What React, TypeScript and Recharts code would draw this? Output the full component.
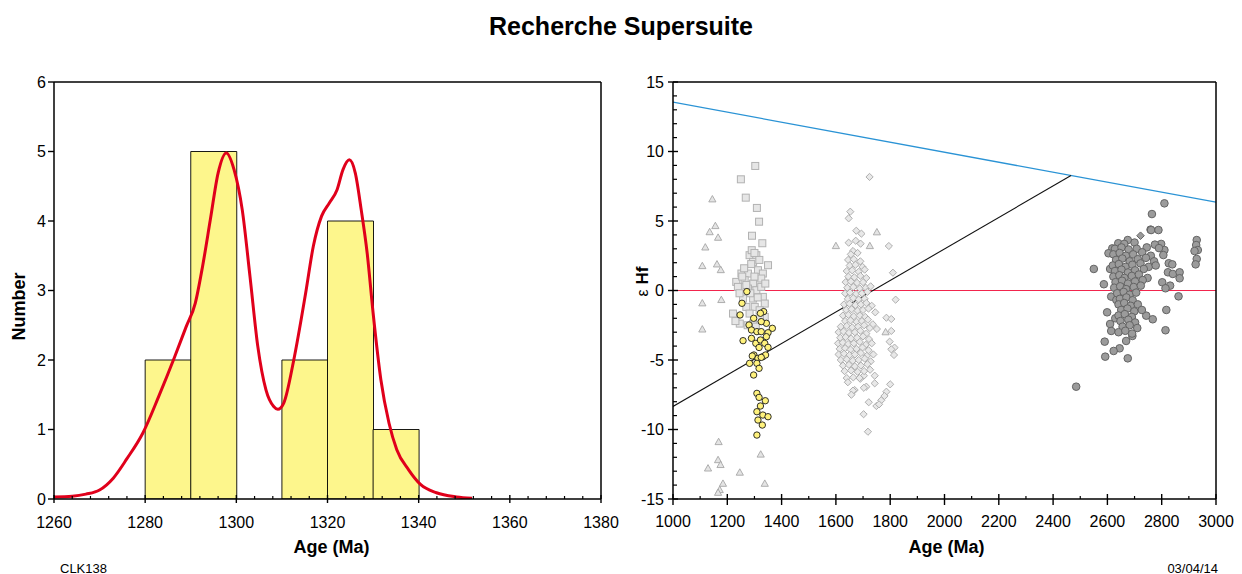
import {
  Bar,
  ComposedChart,
  Line,
  ReferenceLine,
  Scatter,
  XAxis,
  YAxis,
} from "recharts";

// ---- left panel: histogram + probability curve ----
const binStarts = [1260, 1270, 1280, 1290, 1300, 1310, 1320, 1330, 1340, 1350, 1360, 1370];
const binCounts = [0, 0, 2, 5, 0, 2, 4, 1, 0, 0, 0, 0];

const kdeAge = [
  1260, 1264, 1267, 1270, 1273, 1276, 1279.5, 1283, 1286.5, 1289, 1291, 1292.6, 1294.3, 1296,
  1297.8, 1299.5, 1301.3, 1303, 1304.7, 1306.5, 1308.2, 1309.1, 1310.4, 1312.6, 1315.2,
  1316.9, 1318.7, 1320.4, 1322.1, 1323.4, 1324.8, 1326.1, 1327.4, 1328.7, 1330, 1331.7,
  1333.5, 1335.2, 1337.8, 1340.4, 1343.9, 1348.3, 1351.7,
];
const kdeDensity = [
  0.03, 0.04, 0.07, 0.13, 0.3, 0.58, 0.95, 1.48, 2.05, 2.48, 2.82, 3.35, 4.02, 4.69, 4.98,
  4.74, 4.16, 3.2, 2.2, 1.57, 1.33, 1.29, 1.38, 2.0, 2.96, 3.64, 4.07, 4.26, 4.45, 4.74,
  4.88, 4.69, 4.16, 3.54, 2.68, 1.72, 1.09, 0.71, 0.42, 0.21, 0.09, 0.03, 0.01,
];

const countTicks = [0, 1, 2, 3, 4, 5, 6];
const leftAgeLabels = [1260, 1280, 1300, 1320, 1340, 1360, 1380];

// ---- right panel: epsilon Hf vs age ----
const epsLabels = [-15, -10, -5, 0, 5, 10, 15];
const rightAgeLabels = [1000, 1200, 1400, 1600, 1800, 2000, 2200, 2400, 2600, 2800, 3000];

const depletedMantle = [
  [1000, 13.55],
  [3000, 6.35],
];
const crustTrend = [
  [1000, -8.34],
  [2466, 8.27],
];
const chur = [
  [1000, 0],
  [3000, 0],
];

const triangles = [
  [1145, 6.56], [1156, 4.64], [1135, 4.2], [1166, 3.8], [1119, 3.1], [1108, 1.76],
  [1162, 1.88], [1176, 1.47], [1108, -0.92], [1178, -0.68], [1108, -2.8], [1168, -10.9],
  [1166, -12.2], [1129, -12.8], [1175, -12.55], [1246, -13.1], [1323, -11.8], [1184, -13.9],
  [1172, -14.35], [1166, -14.55], [1338, -13.9], [1600, 3.2], [1751, 4.19], [1725, 3.2],
  [1783, -3.0],
];

const squares = [
  [1303, 8.96], [1250, 8.0], [1268, 6.68], [1309, 5.94], [1317, 4.95], [1291, 3.94],
  [1329, 3.4], [1282, 2.54], [1307, 2.54], [1295, 2.06], [1350, 1.82], [1252, 1.22],
  [1276, 1.22], [1313, 1.46], [1331, 1.22], [1233, 0.62], [1264, 0.74], [1295, 0.5],
  [1325, 0.86], [1239, 0.26], [1276, 0.14], [1307, 0.02], [1325, 0.26], [1331, -0.46],
  [1295, -0.58], [1258, -0.58], [1338, -0.94], [1301, -1.18], [1270, -1.18], [1319, -1.42],
  [1221, -1.66], [1282, -1.66], [1246, -2.38], [1338, -1.9], [1295, -2.38], [1288, 1.9],
  [1300, 1.0], [1318, 2.2], [1262, 1.6], [1285, -0.2], [1312, -0.5], [1245, -0.2],
  [1270, 0.4], [1320, -2.0], [1305, -2.6], [1230, -2.2], [1340, 0.5], [1290, 2.9],
  [1300, 2.7], [1275, -2.5], [1255, 1.0],
];

const yellowCircles = [
  [1272, -0.08], [1254, -0.92], [1247, -1.76], [1334, -1.52], [1322, -1.64], [1297, -2.0],
  [1344, -2.36], [1280, -2.48], [1325, -2.24], [1366, -2.72], [1289, -2.84], [1309, -2.96],
  [1325, -2.96], [1350, -3.04], [1258, -3.61], [1289, -3.44], [1305, -3.8], [1322, -3.56],
  [1344, -3.32], [1338, -3.8], [1317, -4.1], [1350, -4.09], [1298, -4.64], [1292, -4.71],
  [1313, -4.88], [1331, -4.76], [1341, -4.64], [1282, -5.24], [1309, -5.24], [1325, -4.81],
  [1317, -5.6], [1297, -6.08], [1309, -7.4], [1317, -7.69], [1340, -7.93], [1322, -8.31],
  [1309, -8.72], [1331, -8.96], [1350, -9.08], [1313, -9.32], [1329, -9.68], [1309, -10.4],
];

const diamonds = [
  [1724, 8.17], [1653, 5.67], [1647, 5.19], [1675, 4.3], [1694, 4.09], [1647, 3.44],
  [1673, 3.58], [1691, 3.37], [1795, 3.2], [1663, 2.84], [1810, 1.28], [1820, -0.66],
  [1745, -1.57], [1786, -1.96], [1804, -2.05], [1736, -2.43], [1751, -2.77], [1804, -2.91],
  [1798, -3.68], [1816, -4.11], [1804, -4.23], [1814, -4.64], [1743, -6.13], [1703, -6.13],
  [1800, -6.75], [1743, -6.68], [1712, -6.92], [1669, -7.16], [1786, -7.28], [1779, -7.59],
  [1721, -8.04], [1767, -7.9], [1749, -8.31], [1759, -8.19], [1702, -8.9], [1718, -10.16],
  [1655, 2.6], [1680, 2.7], [1645, 2.2], [1666, 2.25], [1690, 2.1], [1651, 1.8], [1672, 1.85],
  [1698, 1.7], [1640, 1.4], [1660, 1.45], [1684, 1.35], [1706, 1.5], [1646, 1.0], [1668, 0.95],
  [1690, 1.05], [1712, 0.9], [1636, 0.6], [1655, 0.65], [1678, 0.55], [1700, 0.6], [1642, 0.2],
  [1664, 0.25], [1688, 0.15], [1710, 0.2], [1728, 0.3], [1634, -0.2], [1652, -0.15],
  [1674, -0.25], [1696, -0.2], [1716, -0.1], [1644, -0.6], [1664, -0.55], [1684, -0.65],
  [1706, -0.6], [1630, -1.0], [1650, -0.95], [1672, -1.05], [1692, -1.0], [1712, -0.9],
  [1732, -1.1], [1638, -1.4], [1658, -1.35], [1680, -1.45], [1700, -1.4], [1720, -1.3],
  [1626, -1.8], [1646, -1.75], [1666, -1.85], [1688, -1.8], [1708, -1.9], [1634, -2.2],
  [1654, -2.15], [1676, -2.25], [1696, -2.2], [1718, -2.1], [1618, -2.6], [1640, -2.55],
  [1660, -2.65], [1682, -2.6], [1704, -2.5], [1725, -2.7], [1610, -3.0], [1628, -2.95],
  [1648, -3.05], [1670, -3.0], [1690, -2.9], [1712, -3.1], [1616, -3.4], [1636, -3.35],
  [1656, -3.45], [1678, -3.4], [1700, -3.3], [1722, -3.5], [1608, -3.8], [1625, -3.75],
  [1645, -3.85], [1666, -3.8], [1688, -3.7], [1710, -3.9], [1732, -3.8], [1614, -4.2],
  [1634, -4.15], [1654, -4.25], [1676, -4.2], [1698, -4.1], [1720, -4.3], [1610, -4.6],
  [1630, -4.55], [1650, -4.65], [1670, -4.6], [1692, -4.5], [1714, -4.7], [1738, -4.6],
  [1618, -5.0], [1640, -4.95], [1662, -5.05], [1684, -5.0], [1706, -4.9], [1728, -5.1],
  [1626, -5.4], [1648, -5.35], [1670, -5.45], [1692, -5.4], [1716, -5.3], [1632, -5.8],
  [1656, -5.75], [1680, -5.85], [1704, -5.8], [1726, -5.7], [1640, -6.3], [1664, -6.25],
  [1690, -6.35], [1644, -6.6], [1663, -7.2], [1687, -6.3], [1703, -7.0], [1657, -7.5],
];

const darkCircles = [
  [2764, 5.5], [2759, 4.38], [2675, 3.63], [2618, 3.03], [2604, 2.68], [2550, 1.55],
  [2610, 1.55], [2587, 0.45], [2614, -0.44], [2633, -0.68], [2599, -1.57], [2629, -2.0],
  [2610, -2.41], [2614, -2.91], [2590, -3.68], [2669, -3.63], [2692, -3.27], [2645, -4.16],
  [2623, -4.35], [2592, -4.76], [2675, -4.88], [2485, -6.92], [2743, -1.81], [2767, -2.07],
  [2810, 6.27], [2761, 4.35], [2788, 4.35], [2929, 3.63], [2927, 3.27], [2933, 2.91],
  [2921, 2.84], [2929, 2.27], [2925, 1.88], [2798, 3.35], [2810, 2.91], [2806, 2.55],
  [2826, 1.96], [2839, 1.88], [2823, 1.31], [2841, 1.19], [2866, 1.31], [2866, 0.88],
  [2802, 0.59], [2831, 0.35], [2814, 0.16], [2862, -0.42], [2817, -1.4], [2814, -2.86],
  [2640, 3.4], [2662, 3.35], [2700, 3.45], [2775, 3.3], [2628, 3.0], [2652, 3.1],
  [2678, 2.95], [2708, 3.0], [2745, 3.1], [2790, 3.05], [2622, 2.6], [2645, 2.7],
  [2668, 2.5], [2695, 2.6], [2728, 2.75], [2760, 2.5], [2632, 2.2], [2655, 2.3],
  [2682, 2.1], [2712, 2.25], [2742, 2.35], [2772, 2.1], [2620, 1.8], [2642, 1.9],
  [2667, 1.7], [2692, 1.85], [2722, 1.95], [2752, 1.7], [2778, 1.8], [2628, 1.4], [2652, 1.5],
  [2676, 1.3], [2702, 1.45], [2734, 1.55], [2622, 1.0], [2644, 1.1], [2663, 0.9],
  [2690, 1.05], [2716, 1.15], [2748, 0.9], [2630, 0.6], [2654, 0.7], [2676, 0.5], [2702, 0.65],
  [2730, 0.75], [2625, 0.2], [2647, 0.3], [2669, 0.1], [2697, 0.25], [2723, 0.35],
  [2636, -0.2], [2660, -0.1], [2682, -0.3], [2706, -0.15], [2646, -0.6], [2670, -0.5],
  [2693, -0.7], [2641, -1.0], [2662, -0.9], [2686, -1.1], [2712, -1.0], [2651, -1.4],
  [2674, -1.3], [2699, -1.5], [2727, -1.4], [2641, -1.8], [2664, -1.7], [2690, -1.9],
  [2648, -2.2], [2677, -2.1], [2702, -2.3], [2656, -2.6], [2682, -2.5], [2710, -2.7],
  [2641, -3.0], [2666, -2.9], [2691, -3.1],
];

const darkDiamonds = [[2722, 3.94]];

const FONT = "'Liberation Sans', Arial, Helvetica, sans-serif";

const binData = binStarts.map((b, i) => ({ bin: String(b), count: binCounts[i] }));
const kdeData = kdeAge.map((a, i) => ({ age: a, density: kdeDensity[i] }));
const pts = (rows: number[][]) => rows.map(([age, eps]) => ({ age, eps }));

// minor ticks are only axis decoration
const leftAgeTicks: number[] = [];
for (let a = 1260; a <= 1380; a += 4) leftAgeTicks.push(a);
const rightAgeTicks: number[] = [];
for (let a = 1000; a <= 3000; a += 100) rightAgeTicks.push(a);
const epsTicks: number[] = [];
for (let e = -15; e <= 15; e += 1) epsTicks.push(e);

function LeftAgeTick({ x, y, payload }: any) {
  const v = payload.value;
  if (!leftAgeLabels.includes(v)) {
    return <line x1={x} x2={x} y1={y} y2={y - 3} stroke="#000" strokeWidth={1.2} />;
  }
  return (
    <g>
      <line x1={x} x2={x} y1={y - 4} y2={y + 4} stroke="#000" strokeWidth={1.4} />
      <text x={x} y={y + 29} textAnchor="middle" fontSize={16} fill="#000">
        {v}
      </text>
    </g>
  );
}

function CountTick({ x, y, payload }: any) {
  return (
    <g>
      <line x1={x - 6} x2={x} y1={y} y2={y} stroke="#000" strokeWidth={1.4} />
      <text x={x - 8} y={y + 5.5} textAnchor="end" fontSize={16} fill="#000">
        {payload.value}
      </text>
    </g>
  );
}

function RightAgeTick({ x, y, payload }: any) {
  const v = payload.value;
  if (!rightAgeLabels.includes(v)) {
    return <line x1={x} x2={x} y1={y} y2={y - 3} stroke="#000" strokeWidth={1.2} />;
  }
  return (
    <g>
      <line x1={x} x2={x} y1={y - 5} y2={y + 6} stroke="#000" strokeWidth={1.4} />
      <text x={x} y={y + 28} textAnchor="middle" fontSize={16} fill="#000">
        {v}
      </text>
    </g>
  );
}

function EpsTick({ x, y, payload }: any) {
  const v = payload.value;
  if (!epsLabels.includes(v)) {
    return <line x1={x} x2={x + 4} y1={y} y2={y} stroke="#000" strokeWidth={1.2} />;
  }
  return (
    <g>
      <line x1={x - 5} x2={x + 5} y1={y} y2={y} stroke="#000" strokeWidth={1.4} />
      <text x={x - 9} y={y + 5.5} textAnchor="end" fontSize={16} fill="#000">
        {v}
      </text>
    </g>
  );
}

const triangleShape = ({ cx, cy }: any) => (
  <polygon
    points={`${cx},${cy - 3.8} ${cx + 3.6},${cy + 2.6} ${cx - 3.6},${cy + 2.6}`}
    fill="#e4e4e4"
    stroke="#a6a6a6"
    strokeWidth={0.9}
  />
);
const squareShape = ({ cx, cy }: any) => (
  <rect x={cx - 3.5} y={cy - 3.5} width={7} height={7} fill="#e6e6e6" stroke="#b2b2b2" strokeWidth={1} />
);
const diamondShape = ({ cx, cy }: any) => (
  <polygon
    points={`${cx},${cy - 3.6} ${cx + 3.6},${cy} ${cx},${cy + 3.6} ${cx - 3.6},${cy}`}
    fill="#e8e8e8"
    stroke="#aeaeae"
    strokeWidth={1}
  />
);
const darkDiamondShape = ({ cx, cy }: any) => (
  <polygon
    points={`${cx},${cy - 3.8} ${cx + 3.8},${cy} ${cx},${cy + 3.8} ${cx - 3.8},${cy}`}
    fill="#9a9a9a"
    stroke="#666"
    strokeWidth={1}
  />
);
const yellowShape = ({ cx, cy }: any) => (
  <circle cx={cx} cy={cy} r={3.2} fill="#fff27c" stroke="#1a1a1a" strokeWidth={0.9} />
);
const darkShape = ({ cx, cy }: any) => (
  <circle cx={cx} cy={cy} r={3.8} fill="#9b9b9b" stroke="#646464" strokeWidth={1} />
);

const axisLine = { stroke: "#000", strokeWidth: 1.5 };

export default function App() {
  return (
    <div
      style={{
        position: "absolute",
        left: 0,
        top: 0,
        width: 1242,
        height: 574,
        background: "#fff",
        fontFamily: FONT,
        color: "#000",
      }}
    >
      <div
        style={{
          position: "absolute",
          top: 14,
          left: 0,
          width: 1242,
          textAlign: "center",
          fontSize: 25,
          lineHeight: "25px",
          fontWeight: "bold",
        }}
      >
        Recherche Supersuite
      </div>

      <div style={{ position: "absolute", left: 0, top: 0 }}>
        <ComposedChart
          width={620}
          height={574}
          data={binData}
          barCategoryGap={0}
          margin={{ top: 82, right: 19, bottom: 15, left: 14 }}
        >
          <XAxis xAxisId="bins" dataKey="bin" type="category" hide />
          <XAxis
            xAxisId="age"
            dataKey="age"
            type="number"
            domain={[1260, 1380]}
            allowDataOverflow
            ticks={leftAgeTicks}
            interval={0}
            tickSize={0}
            tickMargin={0}
            tickLine={false}
            tick={LeftAgeTick}
            axisLine={axisLine}
            height={60}
            label={(p: any) => (
              <text
                x={p.viewBox.x + p.viewBox.width / 2 + 4}
                y={p.viewBox.y + 54}
                textAnchor="middle"
                fontSize={18}
                fontWeight="bold"
                fill="#000"
              >
                Age (Ma)
              </text>
            )}
          />
          <YAxis
            yAxisId="n"
            type="number"
            domain={[0, 6]}
            allowDataOverflow
            ticks={countTicks}
            interval={0}
            tickSize={0}
            tickMargin={0}
            tickLine={false}
            tick={CountTick}
            axisLine={axisLine}
            width={40}
            label={(p: any) => {
              const x = p.viewBox.x + 11;
              const y = p.viewBox.y + p.viewBox.height / 2 + 16;
              return (
                <text
                  x={x}
                  y={y}
                  transform={`rotate(-90, ${x}, ${y})`}
                  textAnchor="middle"
                  fontSize={18}
                  fontWeight="bold"
                  fill="#000"
                >
                  Number
                </text>
              );
            }}
          />
          <Bar
            xAxisId="bins"
            yAxisId="n"
            dataKey="count"
            fill="#fdf68c"
            stroke="#000"
            strokeWidth={0.9}
            isAnimationActive={false}
          />
          <Line
            xAxisId="age"
            yAxisId="n"
            data={kdeData}
            dataKey="density"
            type="monotone"
            stroke="#e0001b"
            strokeWidth={3}
            dot={false}
            isAnimationActive={false}
          />
          <ReferenceLine xAxisId="age" yAxisId="n" x={1380} stroke="#000" strokeWidth={1.5} />
          <ReferenceLine xAxisId="age" yAxisId="n" y={6} stroke="#000" strokeWidth={1.5} />
        </ComposedChart>
      </div>

      <div style={{ position: "absolute", left: 620, top: 0 }}>
        <ComposedChart width={622} height={574} margin={{ top: 82, right: 26, bottom: 15, left: 13 }}>
          <XAxis
            dataKey="age"
            type="number"
            domain={[1000, 3000]}
            allowDataOverflow
            ticks={rightAgeTicks}
            interval={0}
            tickSize={0}
            tickMargin={0}
            tickLine={false}
            tick={RightAgeTick}
            axisLine={axisLine}
            height={60}
            label={(p: any) => (
              <text
                x={p.viewBox.x + p.viewBox.width / 2 + 2}
                y={p.viewBox.y + 54}
                textAnchor="middle"
                fontSize={18}
                fontWeight="bold"
                fill="#000"
              >
                Age (Ma)
              </text>
            )}
          />
          <YAxis
            dataKey="eps"
            type="number"
            domain={[-15, 15]}
            allowDataOverflow
            ticks={epsTicks}
            interval={0}
            tickSize={0}
            tickMargin={0}
            tickLine={false}
            tick={EpsTick}
            axisLine={axisLine}
            width={40}
            label={(p: any) => {
              const x = p.viewBox.x + 15;
              const y = p.viewBox.y + p.viewBox.height / 2 - 9;
              return (
                <text
                  x={x}
                  y={y}
                  transform={`rotate(-90, ${x}, ${y})`}
                  textAnchor="middle"
                  fill="#000"
                >
                  <tspan fontSize={16}>ε</tspan>
                  <tspan fontSize={17} fontWeight="bold">
                    {" Hf"}
                  </tspan>
                </text>
              );
            }}
          />
          <Line data={pts(chur)} dataKey="eps" stroke="#f2254d" strokeWidth={1} dot={false} isAnimationActive={false} />
          <Line data={pts(depletedMantle)} dataKey="eps" stroke="#2a93d5" strokeWidth={1.3} dot={false} isAnimationActive={false} />
          <Line data={pts(crustTrend)} dataKey="eps" stroke="#111" strokeWidth={1.1} dot={false} isAnimationActive={false} />
          <Scatter data={pts(triangles)} shape={triangleShape} isAnimationActive={false} />
          <Scatter data={pts(diamonds)} shape={diamondShape} isAnimationActive={false} />
          <Scatter data={pts(squares)} shape={squareShape} isAnimationActive={false} />
          <Scatter data={pts(yellowCircles)} shape={yellowShape} isAnimationActive={false} />
          <Scatter data={pts(darkCircles)} shape={darkShape} isAnimationActive={false} />
          <Scatter data={pts(darkDiamonds)} shape={darkDiamondShape} isAnimationActive={false} />
          <ReferenceLine x={3000} stroke="#000" strokeWidth={1.5} />
          <ReferenceLine y={15} stroke="#000" strokeWidth={1.5} />
        </ComposedChart>
      </div>

      <div style={{ position: "absolute", left: 60, top: 562, fontSize: 13, lineHeight: "13px" }}>CLK138</div>
      <div
        style={{ position: "absolute", right: 1242 - 1218, top: 562, fontSize: 13, lineHeight: "13px" }}
      >
        03/04/14
      </div>
    </div>
  );
}
